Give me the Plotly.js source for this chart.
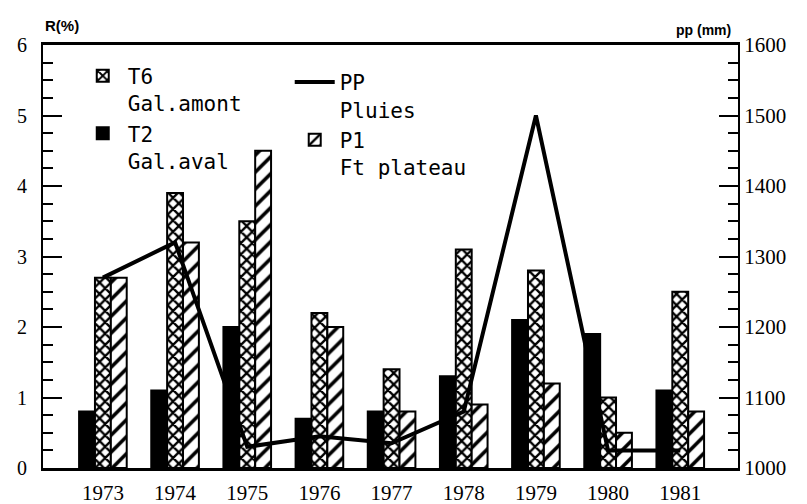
<!DOCTYPE html>
<html>
<head>
<meta charset="utf-8">
<script src="https://cdn.plot.ly/plotly-3.0.1.min.js"></script>
<style>html,body{margin:0;padding:0;background:#fff;}#chart{width:807px;height:504px;}</style>
</head>
<body>
<div id="chart"></div>
<script>
const years = ["1973","1974","1975","1976","1977","1978","1979","1980","1981"];
const t2 = [0.8, 1.1, 2.0, 0.7, 0.8, 1.3, 2.1, 1.9, 1.1];
const t6 = [2.7, 3.9, 3.5, 2.2, 1.4, 3.1, 2.8, 1.0, 2.5];
const p1 = [2.7, 3.2, 4.5, 2.0, 0.8, 0.9, 1.2, 0.5, 0.8];
const pp = [1270, 1320, 1030, 1045, 1035, 1080, 1500, 1025, 1025];
const leftTicks = [0, 1, 2, 3, 4, 5, 6];
const rightTicks = [1000, 1100, 1200, 1300, 1400, 1500, 1600];

const legFont = {family: "DejaVu Sans Mono, Liberation Mono, monospace", size: 21, color: "#000"};
const tickFont = {family: "Liberation Serif, serif", size: 21, color: "#000"};

const traces = [
  {type: "bar", x: years, y: t2, name: "T2<br>Gal.aval", legend: "legend", legendrank: 2,
   marker: {color: "#000", line: {color: "#000", width: 2}}},
  {type: "bar", x: years, y: t6, name: "T6<br>Gal.amont", legend: "legend", legendrank: 1,
   marker: {color: "#fff", line: {color: "#000", width: 2},
            pattern: {shape: "x", fgcolor: "#000", bgcolor: "#fff", size: 8, solidity: 0.5}}},
  {type: "bar", x: years, y: p1, name: "P1<br>Ft plateau", legend: "legend2", legendrank: 2,
   marker: {color: "#fff", line: {color: "#000", width: 2},
            pattern: {shape: "/", fgcolor: "#000", bgcolor: "#fff", size: 12, solidity: 0.3}}},
  {type: "scatter", mode: "lines", x: years, y: pp, yaxis: "y2", name: "PP<br>Pluies", legend: "legend2", legendrank: 1,
   line: {color: "#000", width: 4}}
];

const legCommon = {orientation: "v", yanchor: "top", xanchor: "left", valign: "top",
                   font: legFont, bgcolor: "rgba(0,0,0,0)", itemwidth: 40, tracegroupgap: 0,
                   traceorder: "normal"};

const layout = {
  width: 807, height: 504,
  margin: {l: 43, r: 69, t: 45, b: 36},
  paper_bgcolor: "#fff", plot_bgcolor: "#fff",
  barmode: "group", bargap: 0.34, bargroupgap: 0,
  showlegend: true,
  legend: Object.assign({x: 0.05, y: 0.975}, legCommon),
  legend2: Object.assign({x: 0.355, y: 0.96}, legCommon),
  xaxis: {type: "category", range: [-0.83, 8.8], showline: true, linewidth: 3, linecolor: "#000",
          mirror: true, ticks: "", showgrid: false, tickfont: tickFont, zeroline: false,
          ticklabelstandoff: 4},
  yaxis: {range: [0, 6], tickvals: leftTicks, ticktext: leftTicks.map(String), showline: true,
          linewidth: 2, linecolor: "#000", ticks: "inside", ticklen: 19, tickwidth: 2, tickcolor: "#000",
          minor: {dtick: 0.25, ticks: "inside", ticklen: 10, tickwidth: 2, tickcolor: "#000", showgrid: false},
          showgrid: false, zeroline: false, ticklabelstandoff: 10,
          tickfont: {family: "Liberation Serif, serif", size: 20, color: "#000"}},
  yaxis2: {range: [1000, 1600], overlaying: "y", side: "right", tickvals: rightTicks,
           ticktext: rightTicks.map(String), showline: true, linewidth: 2, linecolor: "#000",
           ticks: "inside", ticklen: 19, tickwidth: 2, tickcolor: "#000",
           minor: {dtick: 25, ticks: "inside", ticklen: 10, tickwidth: 2, tickcolor: "#000", showgrid: false},
           showgrid: false, zeroline: false, tickfont: tickFont},
  annotations: [
    {text: "<b>R(%)</b>", xref: "paper", yref: "paper", x: 0, y: 1.045, xanchor: "left", yanchor: "middle",
     showarrow: false, font: {family: "Liberation Sans, sans-serif", size: 15, color: "#000"}},
    {text: "<b>pp (mm)</b>", xref: "paper", yref: "paper", x: 0.993, y: 1.035, xanchor: "right", yanchor: "middle",
     showarrow: false, font: {family: "Liberation Sans, sans-serif", size: 14, color: "#000"}}
  ]
};

Plotly.newPlot("chart", traces, layout, {displayModeBar: false, staticPlot: true});
</script>
</body>
</html>
